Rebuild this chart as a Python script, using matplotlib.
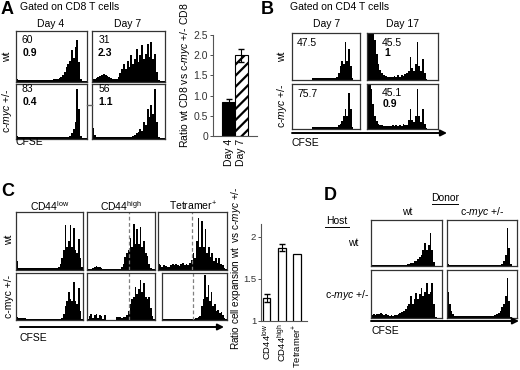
import numpy as np
import matplotlib
matplotlib.use('Agg')
import matplotlib.pyplot as plt

plt.rcParams['font.family'] = ['Liberation Sans', 'DejaVu Sans']
plt.rcParams['mathtext.fontset'] = 'custom'
plt.rcParams['mathtext.rm'] = 'Liberation Sans'
plt.rcParams['mathtext.it'] = 'Liberation Sans:italic'
plt.rcParams['mathtext.bf'] = 'Liberation Sans:bold'
plt.rcParams['hatch.linewidth'] = 1.6

W, H = 520, 370

# histogram heights (fraction of box height), 40 CFSE bins each
a_wt_d4 = [0.05, 0.03, 0.03, 0.03, 0.03, 0.03, 0.03, 0.03, 0.03, 0.03,
           0.03, 0.03, 0.03, 0.04, 0.03, 0.03, 0.04, 0.03, 0.04, 0.04,
           0.04, 0.05, 0.05, 0.06, 0.07, 0.10, 0.14, 0.20, 0.30, 0.35,
           0.42, 0.62, 0.48, 0.68, 0.82, 0.40, 0.05, 0.01, 0.01, 0.01]
a_wt_d7 = [0.05, 0.06, 0.08, 0.10, 0.12, 0.14, 0.15, 0.14, 0.12, 0.10,
           0.08, 0.06, 0.05, 0.06, 0.10, 0.18, 0.25, 0.35, 0.25, 0.42,
           0.30, 0.52, 0.35, 0.45, 0.65, 0.40, 0.52, 0.72, 0.45, 0.55,
           0.75, 0.50, 0.78, 0.45, 0.55, 0.20, 0.03, 0.01, 0.01, 0.01]
a_myc_d4 = [0.06, 0.03, 0.03, 0.03, 0.03, 0.03, 0.03, 0.03, 0.03, 0.03,
            0.03, 0.03, 0.03, 0.03, 0.03, 0.03, 0.03, 0.03, 0.03, 0.03,
            0.03, 0.03, 0.03, 0.03, 0.03, 0.03, 0.03, 0.03, 0.04, 0.04,
            0.06, 0.10, 0.18, 0.30, 0.90, 0.55, 0.05, 0.01, 0.01, 0.01]
a_myc_d7 = [0.20, 0.08, 0.04, 0.03, 0.03, 0.03, 0.03, 0.03, 0.03, 0.03,
            0.03, 0.03, 0.03, 0.03, 0.03, 0.03, 0.03, 0.03, 0.03, 0.03,
            0.03, 0.04, 0.05, 0.07, 0.10, 0.12, 0.18, 0.15, 0.30, 0.25,
            0.55, 0.40, 0.62, 0.45, 0.90, 0.30, 0.03, 0.01, 0.01, 0.01]

b_wt_d7 = [0.00, 0.00, 0.00, 0.00, 0.00, 0.00, 0.00, 0.00, 0.00, 0.00,
           0.00, 0.00, 0.04, 0.04, 0.04, 0.04, 0.04, 0.04, 0.04, 0.04,
           0.04, 0.04, 0.04, 0.04, 0.05, 0.05, 0.07, 0.15, 0.30, 0.40,
           0.35, 0.80, 0.40, 0.65, 0.30, 0.05, 0.00, 0.00, 0.00, 0.00]
b_wt_d17 = [1.10, 1.10, 1.10, 1.10, 0.85, 0.55, 0.35, 0.22, 0.15, 0.10,
            0.08, 0.07, 0.06, 0.07, 0.06, 0.08, 0.07, 0.10, 0.06, 0.10,
            0.08, 0.12, 0.15, 0.20, 0.48, 0.25, 0.20, 0.35, 0.80, 0.30,
            0.20, 0.45, 0.15, 0.03, 0.00, 0.00, 0.00, 0.00, 0.00, 0.00]
b_myc_d7 = [0.00, 0.00, 0.00, 0.00, 0.00, 0.00, 0.00, 0.00, 0.00, 0.00,
            0.00, 0.00, 0.04, 0.04, 0.04, 0.04, 0.04, 0.04, 0.04, 0.04,
            0.04, 0.04, 0.04, 0.04, 0.04, 0.05, 0.05, 0.08, 0.12, 0.18,
            0.30, 0.45, 0.30, 0.80, 0.45, 0.05, 0.00, 0.00, 0.00, 0.00]
b_myc_d17 = [1.10, 1.10, 0.90, 0.55, 0.30, 0.18, 0.12, 0.10, 0.08, 0.07,
             0.06, 0.07, 0.06, 0.07, 0.08, 0.06, 0.09, 0.07, 0.10, 0.07,
             0.12, 0.08, 0.10, 0.20, 0.45, 0.20, 0.15, 0.30, 0.90, 0.30,
             0.15, 0.45, 0.12, 0.02, 0.00, 0.00, 0.00, 0.00, 0.00, 0.00]

c_wt_low = [0.15, 0.04, 0.03, 0.03, 0.03, 0.03, 0.03, 0.03, 0.03, 0.03,
            0.03, 0.03, 0.03, 0.03, 0.03, 0.03, 0.03, 0.03, 0.03, 0.03,
            0.03, 0.03, 0.03, 0.03, 0.04, 0.05, 0.10, 0.20, 0.35, 0.77,
            0.40, 0.50, 0.78, 0.40, 0.73, 0.35, 0.30, 0.53, 0.20, 0.05]
c_wt_high = [0.02, 0.02, 0.02, 0.04, 0.06, 0.07, 0.06, 0.05, 0.04, 0.02,
             0.02, 0.02, 0.02, 0.02, 0.02, 0.02, 0.02, 0.02, 0.02, 0.02,
             0.05, 0.10, 0.22, 0.30, 0.35, 0.55, 0.40, 0.80, 0.45, 0.70,
             0.45, 0.75, 0.40, 0.50, 0.30, 0.25, 0.10, 0.03, 0.01, 0.01]
c_wt_tet = [0.10, 0.08, 0.06, 0.08, 0.07, 0.05, 0.06, 0.08, 0.10, 0.08,
            0.11, 0.09, 0.07, 0.10, 0.12, 0.08, 0.10, 0.09, 0.12, 0.18,
            0.30, 0.20, 0.50, 0.90, 0.40, 0.85, 0.40, 0.70, 0.30, 0.40,
            0.22, 0.30, 0.15, 0.20, 0.12, 0.20, 0.10, 0.08, 0.04, 0.02]
c_myc_low = [0.06, 0.04, 0.04, 0.04, 0.04, 0.04, 0.03, 0.03, 0.03, 0.03,
             0.03, 0.03, 0.03, 0.03, 0.03, 0.03, 0.03, 0.03, 0.03, 0.03,
             0.03, 0.03, 0.03, 0.03, 0.03, 0.03, 0.03, 0.05, 0.12, 0.30,
             0.40, 0.60, 0.45, 0.40, 0.80, 0.40, 0.35, 0.68, 0.20, 0.03]
c_myc_high = [0.02, 0.08, 0.12, 0.05, 0.10, 0.12, 0.05, 0.10, 0.08, 0.03,
              0.10, 0.01, 0.01, 0.01, 0.01, 0.01, 0.01, 0.06, 0.06, 0.07,
              0.05, 0.07, 0.06, 0.10, 0.20, 0.35, 0.45, 0.50, 0.70, 0.55,
              0.65, 0.86, 0.60, 0.78, 0.50, 0.45, 0.50, 0.25, 0.08, 0.02]
c_myc_tet = [0.02, 0.02, 0.02, 0.02, 0.02, 0.02, 0.02, 0.02, 0.02, 0.02,
             0.02, 0.02, 0.02, 0.02, 0.02, 0.02, 0.02, 0.02, 0.02, 0.03,
             0.04, 0.05, 0.06, 0.08, 0.30, 0.45, 0.96, 0.50, 0.75, 0.40,
             0.60, 0.30, 0.35, 0.20, 0.22, 0.15, 0.18, 0.10, 0.05, 0.02]

d_wt_wt = [0.03, 0.03, 0.03, 0.03, 0.03, 0.03, 0.03, 0.03, 0.03, 0.03,
           0.03, 0.03, 0.03, 0.03, 0.03, 0.03, 0.03, 0.03, 0.03, 0.03,
           0.04, 0.05, 0.06, 0.07, 0.10, 0.10, 0.15, 0.20, 0.25, 0.35,
           0.50, 0.35, 0.45, 0.72, 0.35, 0.08, 0.01, 0.01, 0.01, 0.01]
d_wt_myc = [0.05, 0.02, 0.02, 0.02, 0.02, 0.02, 0.02, 0.02, 0.02, 0.02,
            0.02, 0.02, 0.02, 0.02, 0.02, 0.02, 0.02, 0.02, 0.02, 0.02,
            0.02, 0.02, 0.02, 0.02, 0.02, 0.02, 0.02, 0.02, 0.02, 0.02,
            0.03, 0.05, 0.10, 0.25, 0.82, 0.40, 0.05, 0.01, 0.01, 0.01]
d_myc_wt = [0.06, 0.08, 0.07, 0.09, 0.08, 0.10, 0.08, 0.07, 0.08, 0.06,
            0.05, 0.06, 0.05, 0.06, 0.07, 0.08, 0.10, 0.12, 0.15, 0.18,
            0.25, 0.30, 0.45, 0.30, 0.40, 0.53, 0.40, 0.50, 0.63, 0.45,
            0.55, 0.73, 0.50, 0.55, 0.73, 0.30, 0.03, 0.01, 0.01, 0.01]
d_myc_myc = [0.55, 0.30, 0.15, 0.08, 0.04, 0.04, 0.04, 0.04, 0.04, 0.04,
             0.04, 0.04, 0.04, 0.04, 0.04, 0.04, 0.04, 0.04, 0.04, 0.04,
             0.04, 0.04, 0.04, 0.04, 0.04, 0.04, 0.05, 0.06, 0.08, 0.10,
             0.15, 0.22, 0.30, 0.45, 0.83, 0.35, 0.03, 0.01, 0.01, 0.01]

# bar charts
a_days = ['Day 4', 'Day 7']
a_ratio = [0.84, 2.0]
a_err = [0.07, 0.16]
c_groups = ['CD44$^{\\mathrm{low}}$', 'CD44$^{\\mathrm{high}}$', 'Tetramer$^{+}$']
c_ratio = [1.27, 1.87, 1.80]
c_err = [0.05, 0.04, 0.0]

fig = plt.figure(figsize=(5.2, 3.7), dpi=100)


def px_axes(x0, y0, x1, y1):
    return fig.add_axes([x0 / W, 1 - y1 / H, (x1 - x0) / W, (y1 - y0) / H])


def hist_box(x0, y0, x1, y1, h, dash=None):
    ax = px_axes(x0, y0, x1, y1)
    x = np.arange(len(h) + 1)
    ax.fill_between(x, list(h) + [h[-1]], step='post', color='black', lw=0)
    ax.set_xlim(0, len(h))
    ax.set_ylim(0, 1)
    ax.set_xticks([])
    ax.set_yticks([])
    for s in ax.spines.values():
        s.set_linewidth(0.9)
        s.set_color('#333333')
    if dash is not None:
        ax.axvline(dash * len(h), color='gray', ls=(0, (3, 2)), lw=0.9)
    return ax


# A
hist_box(16, 31, 87, 82, a_wt_d4)
hist_box(92, 31, 165, 82, a_wt_d7)
hist_box(16, 84, 87, 139, a_myc_d4)
hist_box(92, 84, 165, 139, a_myc_d7)

# B
hist_box(292, 33, 360, 80, b_wt_d7)
hist_box(367, 33, 438, 80, b_wt_d17)
hist_box(292, 84, 360, 129, b_myc_d7)
hist_box(367, 84, 438, 129, b_myc_d17)

# C
hist_box(16, 212, 83, 270, c_wt_low)
hist_box(87, 212, 155, 270, c_wt_high, dash=0.62)
hist_box(158, 212, 227, 270, c_wt_tet, dash=0.49)
hist_box(16, 273, 83, 320, c_myc_low)
hist_box(87, 273, 155, 320, c_myc_high, dash=0.62)
hist_box(162, 273, 227, 320, c_myc_tet, dash=0.48)

# D
hist_box(371, 220, 442, 266, d_wt_wt)
hist_box(447, 220, 517, 266, d_wt_myc)
hist_box(371, 270, 442, 318, d_myc_wt)
hist_box(447, 270, 517, 318, d_myc_myc)


def style_bar_axes(ax, size):
    ax.spines['top'].set_visible(False)
    ax.spines['right'].set_visible(False)
    for s in ('left', 'bottom'):
        ax.spines[s].set_linewidth(0.8)
        ax.spines[s].set_color('#555555')
    ax.tick_params(axis='y', length=2, width=0.6, pad=1.5, labelsize=size, colors='#333333')
    ax.tick_params(axis='x', length=0, pad=2, labelsize=size)


# A bar chart
axa = px_axes(213, 35, 257, 136)
axa.bar([0], a_ratio[:1], width=1.0, color='black', edgecolor='black', lw=0.8)
axa.bar([1], a_ratio[1:], width=1.0, color='white', edgecolor='black', lw=0.8, hatch='///')
axa.errorbar([0, 1], a_ratio, yerr=a_err, fmt='none', ecolor='black', elinewidth=0.8, capsize=2)
axa.set_xlim(-1.2, 2.2)
axa.set_ylim(0, 2.5)
axa.set_yticks([0, 0.5, 1.0, 1.5, 2.0, 2.5])
axa.set_yticklabels(['0', '0.5', '1.0', '1.5', '2.0', '2.5'])
axa.set_xticks([0, 1])
axa.set_xticklabels(a_days, rotation=90, va='top')
style_bar_axes(axa, 7.5)

# C bar chart
axc = px_axes(261, 224, 307, 321)
axc.bar(range(3), c_ratio, width=0.5, color='white', edgecolor='black', lw=0.9)
axc.errorbar([0, 1], c_ratio[:2], yerr=c_err[:2], fmt='none', ecolor='black', elinewidth=0.8, capsize=2)
axc.set_xlim(-0.37, 2.67)
axc.set_ylim(1, 2.15)
axc.set_yticks([1, 1.5, 2])
axc.set_yticklabels(['1', '1.5', '2'])
axc.set_xticks(range(3))
axc.set_xticklabels(c_groups, rotation=90, va='top')
style_bar_axes(axc, 6.8)

# overlay for all labels, in pixel coordinates
ov = fig.add_axes([0, 0, 1, 1], facecolor='none')
ov.set_xlim(0, W)
ov.set_ylim(H, 0)
ov.axis('off')

fs = 7.5
myc = 'c-$\\it{myc}$ +/-'


def t(x, y, s, **kw):
    kw.setdefault('fontsize', fs)
    kw.setdefault('va', 'center')
    ov.text(x, y, s, **kw)


def arrow(x0, x1, y):
    ov.annotate('', xy=(x1, y), xytext=(x0, y),
                arrowprops=dict(arrowstyle='-|>', color='black', lw=1.4,
                                mutation_scale=9, shrinkA=0, shrinkB=0))


# A labels
t(1, 10, 'A', fontsize=13, fontweight='bold')
t(20, 7, 'Gated on CD8 T cells')
t(51, 24, 'Day 4', ha='center')
t(128, 24, 'Day 7', ha='center')
t(7, 57, 'wt', rotation=90, ha='center')
t(7, 111, myc, rotation=90, ha='center')
t(21, 40, '60')
t(23, 53, '0.9', fontweight='bold')
t(99, 40, '31')
t(98, 53, '2.3', fontweight='bold')
t(21, 89, '83')
t(23, 102, '0.4', fontweight='bold')
t(99, 89, '56')
t(98, 102, '1.1', fontweight='bold')
t(16, 142, 'CFSE')
ov.plot([87, 92], [105, 105], color='#666666', lw=1)
t(185, 75, 'Ratio wt CD8 vs ' + myc + ' CD8', rotation=90, ha='center')

# B labels
t(261, 10, 'B', fontsize=13, fontweight='bold')
t(290, 7, 'Gated on CD4 T cells')
t(327, 24, 'Day 7', ha='center')
t(402, 24, 'Day 17', ha='center')
t(282, 57, 'wt', rotation=90, ha='center')
t(282, 106, myc, rotation=90, ha='center')
t(297, 43, '47.5')
t(382, 43, '45.5')
t(384, 53, '1', fontweight='bold')
t(297, 94, '75.7')
t(382, 93, '45.1')
t(383, 104, '0.9', fontweight='bold')
arrow(292, 447, 133)
t(292, 143, 'CFSE')

# C labels
t(1, 192, 'C', fontsize=13, fontweight='bold')
t(50, 206, c_groups[0], ha='center')
t(121, 206, c_groups[1], ha='center')
t(193, 206, c_groups[2], ha='center')
t(9, 240, 'wt', rotation=90, ha='center')
t(9, 296, 'c-myc +/-', rotation=90, ha='center')
arrow(20, 224, 327)
t(20, 338, 'CFSE')
t(236, 268, 'Ratio cell expansion wt  vs ' + myc, rotation=90, ha='center', fontsize=7.2)

# D labels
t(324, 196, 'D', fontsize=13, fontweight='bold')
t(445, 198, 'Donor', ha='center')
ov.plot([432, 458], [203.5, 203.5], color='black', lw=0.7)
t(337, 221, 'Host', ha='center')
ov.plot([325, 349], [226.5, 226.5], color='black', lw=0.7)
t(407, 212, 'wt', ha='center')
t(482, 212, myc, ha='center')
t(353, 243, 'wt', ha='center')
t(347, 295, myc, ha='center')
arrow(371, 519, 321)
t(372, 331, 'CFSE')

fig.savefig('out.png', dpi=100)
